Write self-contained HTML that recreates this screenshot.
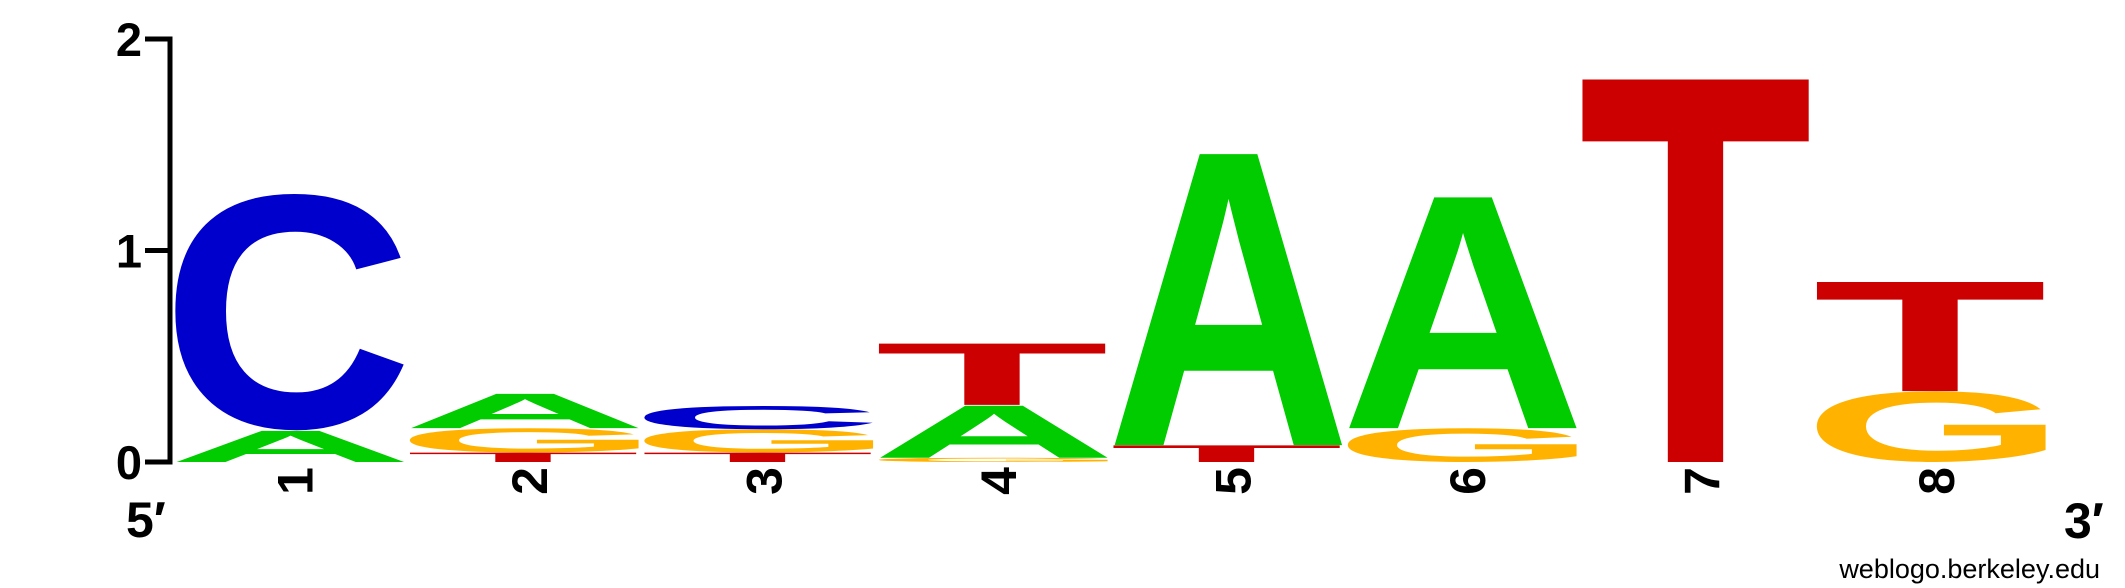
<!DOCTYPE html>
<html><head><meta charset="utf-8"><style>
html,body{margin:0;padding:0;background:#fff;}
svg{display:block;}
text{font-family:"Liberation Sans",Arial,sans-serif;}
</style></head><body>
<svg id="logo" width="2125" height="588" viewBox="0 0 2125 588" xmlns="http://www.w3.org/2000/svg">
<g id="axis"></g>
<g id="marks"></g>
<g id="xlabels"></g>
<text x="126" y="537" font-size="50" font-weight="bold">5′</text>
<text x="2064" y="538" font-size="50" font-weight="bold">3′</text>
<text x="2100" y="578" font-size="27" text-anchor="end">weblogo.berkeley.edu</text>
</svg>
<script>
// positions 1..8, letters stacked bottom to top, heights in bits
const positions = ["1","2","3","4","5","6","7","8"];
const stackLetters = [
  ["A","C"],
  ["T","G","A"],
  ["T","G","C"],
  ["G","A","T"],
  ["T","A"],
  ["G","A"],
  ["T"],
  ["G","T"]
];
const stackHeights = [
  [0.15,1.12],
  [0.045,0.115,0.165],
  [0.045,0.11,0.11],
  [0.02,0.25,0.295],
  [0.08,1.40],
  [0.16,1.11],
  [1.84],
  [0.335,0.525]
];
const yTicks = [0,1,2];

const NS="http://www.w3.org/2000/svg";
const svg=document.getElementById('logo');
const X0=175, COLW=234.5, GAP=4, Y0=462, UNIT=211.5;
const xCol=i=>X0+i*COLW;
const yVal=v=>Y0-v*UNIT;
const colors={A:"#00cc00",C:"#0000cc",G:"#ffb300",T:"#cc0000"};

// measure glyph ink metrics (per 100px)
const cv=document.createElement('canvas');
const ctx=cv.getContext('2d');
ctx.font='bold 100px "Liberation Sans", Arial, sans-serif';
const fallback={A:[-2,66.5,68.8,0],C:[-3.9,65,70.2,1.2],G:[-4,69,70.2,1.2],T:[-2.7,58.5,68.8,0]};
const gm={};
["A","C","G","T"].forEach(L=>{
  const m=ctx.measureText(L);
  if(m.actualBoundingBoxRight!==undefined && m.actualBoundingBoxRight>0){
    gm[L]={l:m.actualBoundingBoxLeft,w:m.actualBoundingBoxLeft+m.actualBoundingBoxRight,asc:m.actualBoundingBoxAscent,des:m.actualBoundingBoxDescent};
  } else {
    const f=fallback[L];
    gm[L]={l:f[0],w:f[1],asc:f[2],des:f[3]};
  }
});

// axis
const ax=document.getElementById('axis');
const line=document.createElementNS(NS,'path');
line.setAttribute('d',`M145 ${yVal(2)} H170 V${Y0} H145`);
line.setAttribute('stroke','#000');line.setAttribute('stroke-width','5');line.setAttribute('fill','none');


ax.appendChild(line);
yTicks.forEach(t=>{
  const tk=document.createElementNS(NS,'line');
  tk.setAttribute('x1',145);tk.setAttribute('x2',170);tk.setAttribute('y1',yVal(t));tk.setAttribute('y2',yVal(t));
  tk.setAttribute('stroke','#000');tk.setAttribute('stroke-width','5');
  
  
  ax.appendChild(tk);
  const tx=document.createElementNS(NS,'text');
  tx.setAttribute('x',142);tx.setAttribute('y',yVal(t)+17);
  tx.setAttribute('text-anchor','end');tx.setAttribute('font-size','47');tx.setAttribute('font-weight','bold');
  tx.textContent=String(t);
  
  
  ax.appendChild(tx);
});

// letters: font-size fits the width, vertical scale fits the height
const mk=document.getElementById('marks');
stackLetters.forEach((letters,i)=>{
  let base=0;
  const x=xCol(i), w=COLW-GAP;
  letters.forEach((L,j)=>{
    const h=stackHeights[i][j];
    const yb=yVal(base), yt=yVal(base+h);
    const m=gm[L];
    const fs=w/(m.w/100);
    const f=fs/100;
    const sy=(yb-yt)/((m.asc+m.des)*f);
    const t=document.createElementNS(NS,'text');
    t.setAttribute('font-size',fs.toFixed(3));t.setAttribute('font-weight','bold');
    t.setAttribute('fill',colors[L]);
    t.setAttribute('x',(x+m.l*f).toFixed(3));t.setAttribute('y','0');
    const by=yb-m.des*f*sy;
    t.setAttribute('transform',`translate(0,${by.toFixed(3)}) scale(1,${sy.toFixed(5)})`);
    t.textContent=L;
    
    
    mk.appendChild(t);
    base+=h;
  });
});

// column numbers
const xl=document.getElementById('xlabels');
positions.forEach((p,i)=>{
  const cx=xCol(i)+(COLW-GAP)/2+4;
  const t=document.createElementNS(NS,'text');
  t.setAttribute('font-size','50');t.setAttribute('font-weight','bold');
  t.setAttribute('text-anchor','end');
  t.setAttribute('transform',`translate(${(cx+18).toFixed(2)},467) rotate(-90)`);
  t.textContent=p;
  
  
  xl.appendChild(t);
});
</script>
</body></html>
